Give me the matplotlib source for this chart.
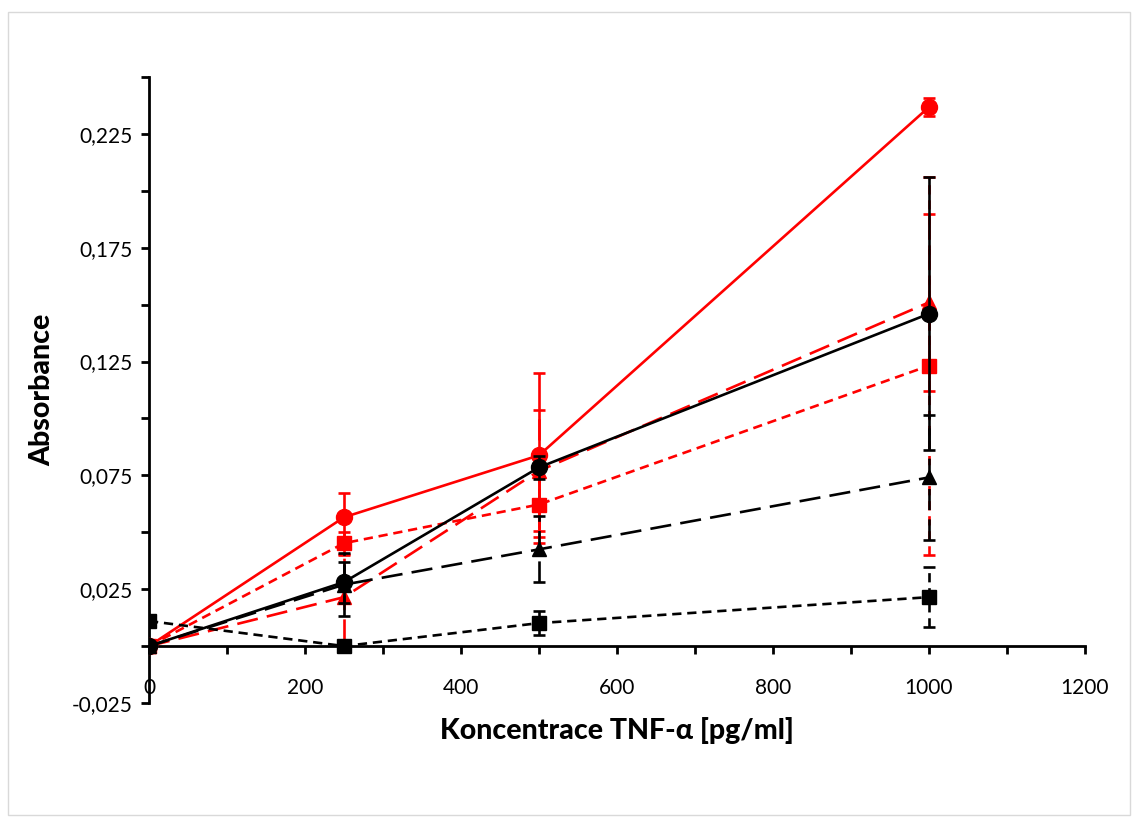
import matplotlib
matplotlib.use("Agg")
import matplotlib.pyplot as plt
from matplotlib.patches import Rectangle
from matplotlib.ticker import MultipleLocator, FixedLocator, FuncFormatter

plt.rcParams['font.family'] = ['Lato', 'DejaVu Sans']

# concentrations
conc = [0, 250, 500, 1000]

# absorbance per series, with error bars
red_circ = [0.0, 0.0566, 0.0838, 0.2368]
red_circ_err = [0.001, 0.0105, 0.036, 0.004]
red_sq = [0.0, 0.0452, 0.0622, 0.1232]
red_sq_err = [0.001, 0.005, 0.017, 0.083]
red_tri = [0.0, 0.0215, 0.077, 0.151]
red_tri_err = [0.001, 0.019, 0.0265, 0.039]
blk_sq = [0.011, 0.0, 0.0101, 0.0215]
blk_sq_err = [0.002, 0.001, 0.0052, 0.0133]
blk_tri = [0.0, 0.027, 0.0425, 0.0741]
blk_tri_err = [0.001, 0.014, 0.0145, 0.0276]
blk_circ = [0.0, 0.0281, 0.0785, 0.146]
blk_circ_err = [0.001, 0.009, 0.005, 0.060]

fig = plt.figure(figsize=(11.39, 8.23), dpi=100)
ax = fig.add_axes([149 / 1139, 1 - 703 / 823, (1085 - 149) / 1139, (703 - 77) / 823])

short_dash = (0, (3.5, 2.2))
long_dash = (0, (8, 3.5))

series = [
    (red_circ, red_circ_err, 'red', 'o', 'solid', 11.5),
    (red_sq, red_sq_err, 'red', 's', short_dash, 10),
    (red_tri, red_tri_err, 'red', '^', long_dash, 10),
    (blk_sq, blk_sq_err, 'black', 's', short_dash, 10),
    (blk_tri, blk_tri_err, 'black', '^', long_dash, 10),
    (blk_circ, blk_circ_err, 'black', 'o', 'solid', 11.5),
]

for i, (vals, err, col, mk, ls, ms) in enumerate(series):
    line, caps, bars = ax.errorbar(conc, vals, yerr=err, color=col, marker=mk,
                                   markersize=ms, linewidth=1.9, capsize=4,
                                   capthick=1.9, elinewidth=1.9, zorder=3 + i)
    line.set_linestyle(ls)
    for b in bars:
        b.set_linestyle(ls)

ax.set_xlim(0, 1200)
ax.set_ylim(-0.025, 0.25)

for s in ['top', 'right']:
    ax.spines[s].set_visible(False)
ax.spines['bottom'].set_position(('data', 0))
for s in ['left', 'bottom']:
    ax.spines[s].set_linewidth(2)
    ax.spines[s].set_zorder(2)

ax.xaxis.set_major_locator(MultipleLocator(200))
ax.xaxis.set_minor_locator(MultipleLocator(100))
ax.yaxis.set_major_locator(FixedLocator([-0.025, 0.025, 0.075, 0.125, 0.175, 0.225]))
ax.yaxis.set_minor_locator(FixedLocator([0, 0.05, 0.1, 0.15, 0.2, 0.25]))
ax.yaxis.set_major_formatter(FuncFormatter(lambda v, p: f"{v:.3f}".replace('.', ',')))

ax.tick_params(axis='both', which='both', direction='out', width=2, length=6,
               labelsize=15)
ax.tick_params(axis='x', which='major', pad=17)
ax.tick_params(axis='y', which='major', pad=6)

ax.set_xlabel('Koncentrace TNF-α [pg/ml]', fontsize=20.5, fontweight='black', labelpad=14)
ax.set_ylabel('Absorbance', fontsize=20.5, fontweight='black', labelpad=12)

fig.patches.append(Rectangle((8 / 1139, 8 / 823), 1122 / 1139, 803 / 823,
                             transform=fig.transFigure, fill=False,
                             edgecolor='#d9d9d9', linewidth=1))

fig.savefig('out.png', dpi=100)
